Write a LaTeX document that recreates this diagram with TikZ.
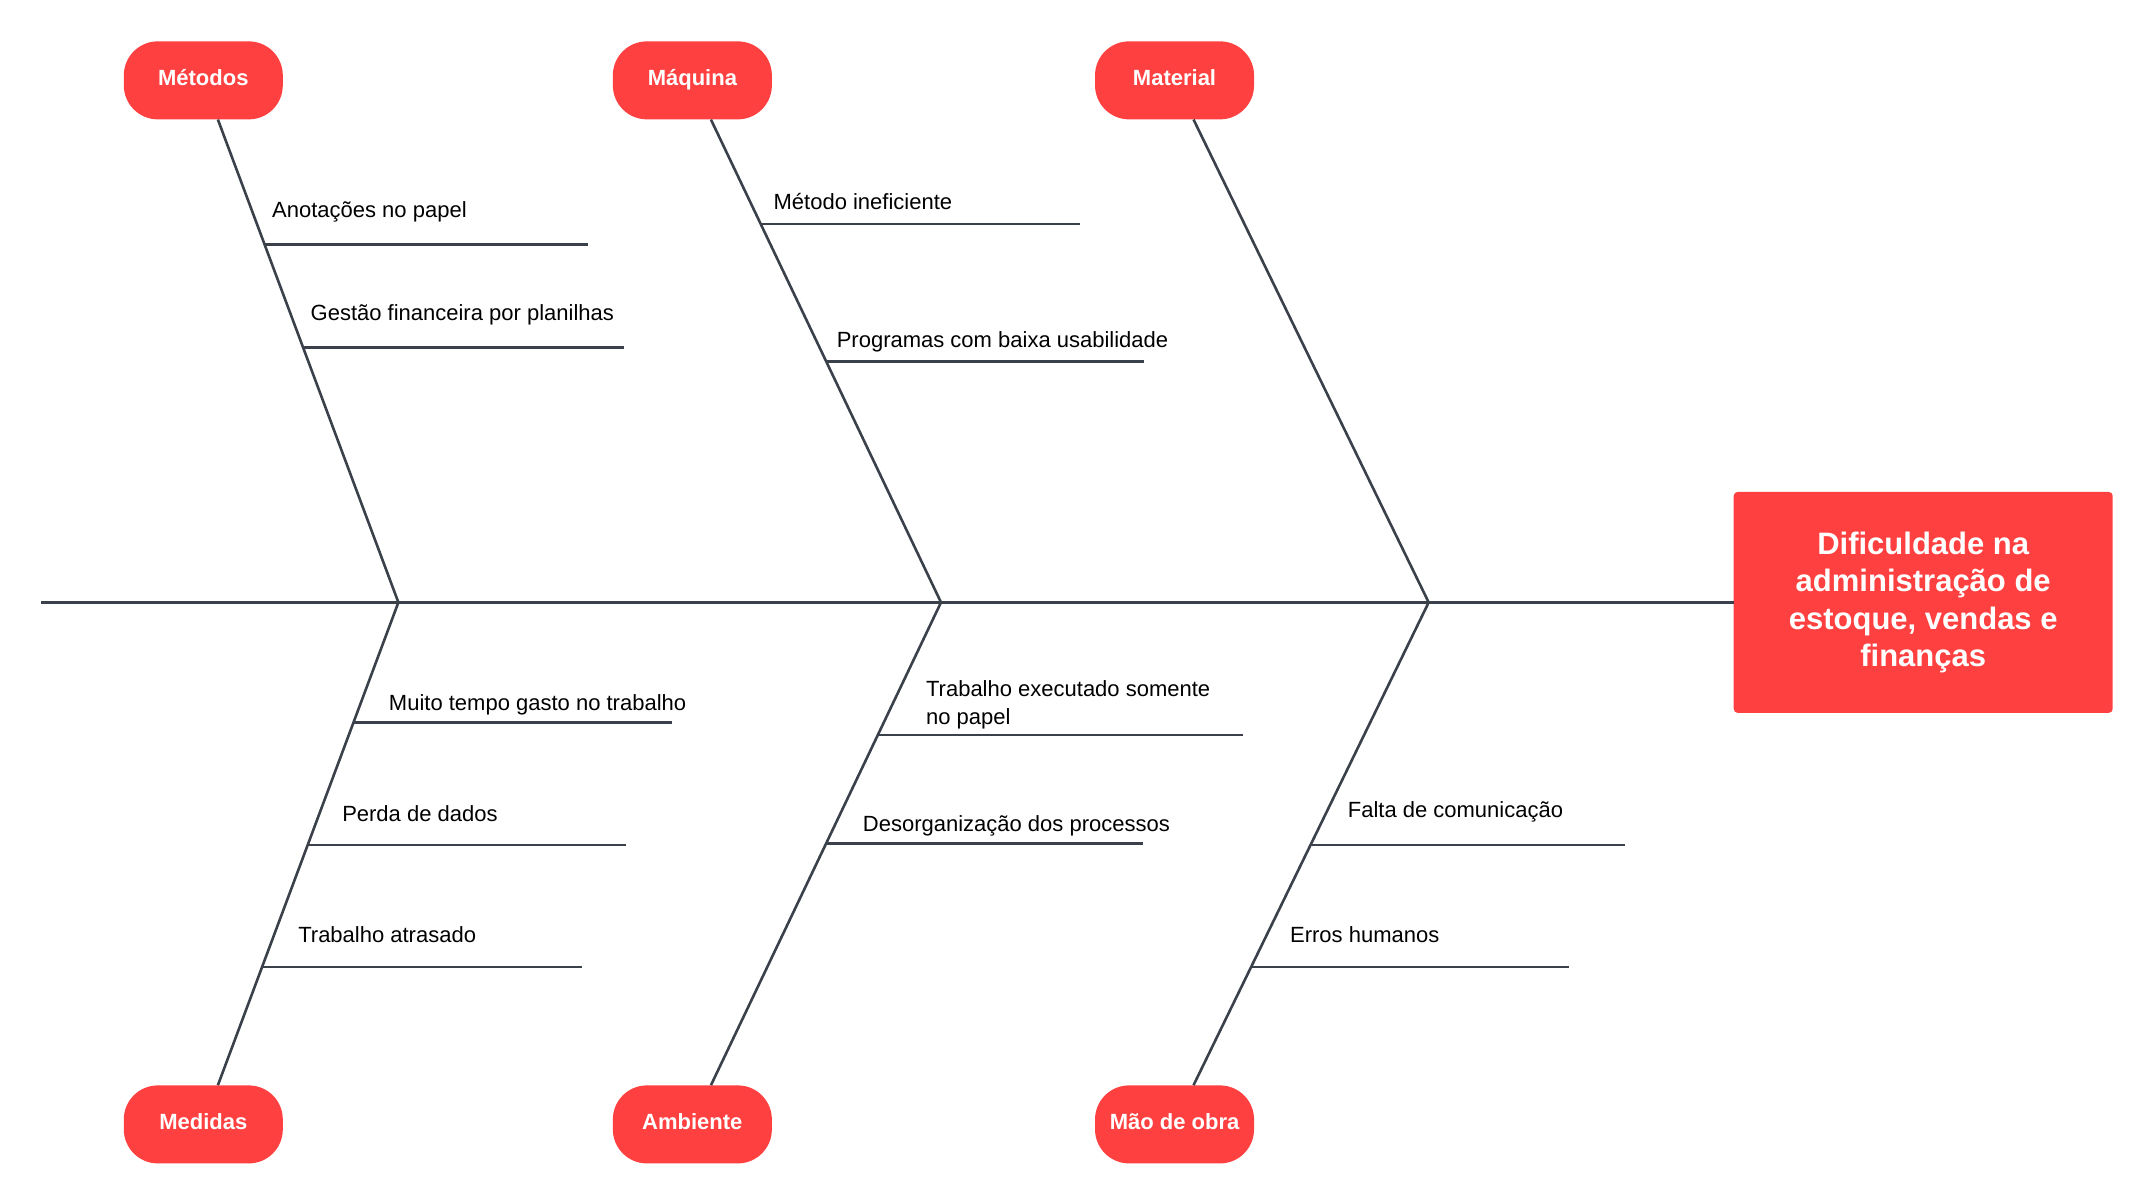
\documentclass[tikz,border=0pt]{standalone}
\usepackage{fontspec}
\setmainfont{Liberation Sans}
\usepackage{tikz}
\usetikzlibrary{positioning}
\definecolor{cause_red}{RGB}{255, 64, 64}
\definecolor{bone_gray}{RGB}{58, 65, 74}

\tikzset{
  cat/.style={fill=cause_red, text=white, font=\fontsize{22}{26}\selectfont\bfseries,
    minimum width=159pt, minimum height=78pt, rounded corners=34pt, inner sep=0pt,
    text height=16pt, text depth=5pt},
  head/.style={fill=cause_red, text=white, font=\fontsize{31}{37.5}\selectfont\bfseries,
    minimum width=379pt, minimum height=221pt, rounded corners=4pt, align=center},
  bone/.style={bone_gray, line width=2.6pt},
  lbl/.style={font=\fontsize{22}{27.5}\selectfont, anchor=west, inner sep=0pt, align=left}
}

\begin{document}
\begin{tikzpicture}[x=1.37372pt, y=-1.37372pt]
\useasboundingbox (0,0) rectangle (1560,872.8);

\node[head] (prob) at (1400,438.5) {Dificuldade na\\administração de\\estoque, vendas e\\finanças};

\node[cat] (metodos) at (148,58.5) {Métodos};
\node[cat] (maquina) at (504,58.5) {Máquina};
\node[cat] (material) at (855,58.5) {Material};
\node[cat] (medidas) at (148,818.5) {Medidas};
\node[cat] (ambiente) at (504,818.5) {Ambiente};
\node[cat] (maodeobra) at (855,818.5) {Mão de obra};

% spine
\coordinate (tail) at (30,438.5);
\coordinate (j1) at (290,438.5);
\coordinate (j2) at (685,438.5);
\coordinate (j3) at (1040,438.5);
\draw[bone] (tail) -- (prob);

% bones
\draw[bone] (metodos) -- (j1) -- (medidas);
\draw[bone] (maquina) -- (j2) -- (ambiente);
\draw[bone] (material) -- (j3) -- (maodeobra);

% causes
\foreach \sx/\sy/\ex/\tx/\ty/\txt [count=\i] in {
    193/178/428/198/154/Anotações no papel,
    221/253/454/226/229/Gestão financeira por planilhas,
    554/163/786/563/147/Método ineficiente,
    601/263/833/609/249/Programas com baixa usabilidade,
    257/526/489/283/513/Muito tempo gasto no trabalho,
    224/615/456/249/592/Perda de dados,
    190/704/424/217/680/Trabalho atrasado,
    639/535/905/674/513/{Trabalho executado somente\\no papel},
    601/614/832/628/601/Desorganização dos processos,
    954/615/1183/981/591/Falta de comunicação,
    911/704/1142/939/680/Erros humanos}
{
  \coordinate (s\i) at (\sx,\sy);
  \coordinate (e\i) at (\ex,\sy);
  \draw[bone] (s\i) -- (e\i);
  \node[lbl] (c\i) at (\tx,\ty) {\txt};
}

\end{tikzpicture}
\end{document}
